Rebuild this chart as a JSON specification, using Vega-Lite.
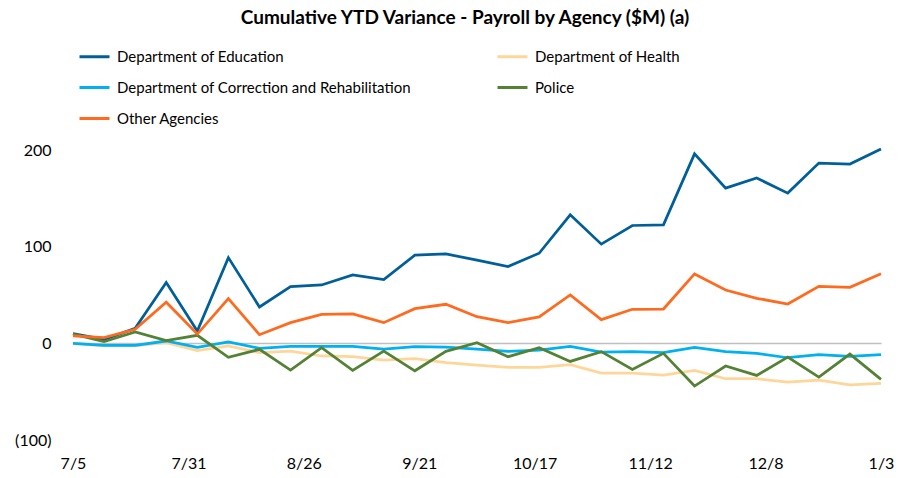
{
  "$schema": "https://vega.github.io/schema/vega-lite/v6.json",
  "autosize": {"type": "none"},
  "padding": {"left": 73, "top": 150, "right": 27, "bottom": 38},
  "width": 808,
  "height": 290,
  "background": "white",
  "config": {"view": {"stroke": null}, "font": "Lato"},
  "title": {
    "text": "Cumulative YTD Variance - Payroll by Agency ($M) (a)",
    "fontSize": 19,
    "fontWeight": "bold",
    "font": "Lato",
    "color": "#000000",
    "anchor": "middle",
    "dx": -12,
    "dy": 3,
    "offset": 15
  },
  "data": {
    "values": [
      {"date": "2024-07-05", "agency": "Department of Education", "value": 10},
      {"date": "2024-07-12", "agency": "Department of Education", "value": 4},
      {"date": "2024-07-19", "agency": "Department of Education", "value": 15.5},
      {"date": "2024-07-26", "agency": "Department of Education", "value": 63},
      {"date": "2024-08-02", "agency": "Department of Education", "value": 12.7},
      {"date": "2024-08-09", "agency": "Department of Education", "value": 88.7},
      {"date": "2024-08-16", "agency": "Department of Education", "value": 37.6},
      {"date": "2024-08-23", "agency": "Department of Education", "value": 58.7},
      {"date": "2024-08-30", "agency": "Department of Education", "value": 60.4},
      {"date": "2024-09-06", "agency": "Department of Education", "value": 70.8},
      {"date": "2024-09-13", "agency": "Department of Education", "value": 66},
      {"date": "2024-09-20", "agency": "Department of Education", "value": 91.2},
      {"date": "2024-09-27", "agency": "Department of Education", "value": 92.5},
      {"date": "2024-10-04", "agency": "Department of Education", "value": 86},
      {"date": "2024-10-11", "agency": "Department of Education", "value": 79.4},
      {"date": "2024-10-18", "agency": "Department of Education", "value": 93.2},
      {"date": "2024-10-25", "agency": "Department of Education", "value": 133},
      {"date": "2024-11-01", "agency": "Department of Education", "value": 102.6},
      {"date": "2024-11-08", "agency": "Department of Education", "value": 121.9},
      {"date": "2024-11-15", "agency": "Department of Education", "value": 122.6},
      {"date": "2024-11-22", "agency": "Department of Education", "value": 196},
      {"date": "2024-11-29", "agency": "Department of Education", "value": 160.6},
      {"date": "2024-12-06", "agency": "Department of Education", "value": 171},
      {"date": "2024-12-13", "agency": "Department of Education", "value": 155.4},
      {"date": "2024-12-20", "agency": "Department of Education", "value": 186.5},
      {"date": "2024-12-27", "agency": "Department of Education", "value": 185.5},
      {"date": "2025-01-03", "agency": "Department of Education", "value": 201},

      {"date": "2024-07-05", "agency": "Department of Health", "value": 0},
      {"date": "2024-07-12", "agency": "Department of Health", "value": -2.7},
      {"date": "2024-07-19", "agency": "Department of Health", "value": -2.7},
      {"date": "2024-07-26", "agency": "Department of Health", "value": 0.7},
      {"date": "2024-08-02", "agency": "Department of Health", "value": -7.6},
      {"date": "2024-08-09", "agency": "Department of Health", "value": -2.7},
      {"date": "2024-08-16", "agency": "Department of Health", "value": -9.7},
      {"date": "2024-08-23", "agency": "Department of Health", "value": -8},
      {"date": "2024-08-30", "agency": "Department of Health", "value": -13.1},
      {"date": "2024-09-06", "agency": "Department of Health", "value": -13.8},
      {"date": "2024-09-13", "agency": "Department of Health", "value": -17.3},
      {"date": "2024-09-20", "agency": "Department of Health", "value": -15.9},
      {"date": "2024-09-27", "agency": "Department of Health", "value": -20},
      {"date": "2024-10-04", "agency": "Department of Health", "value": -22.5},
      {"date": "2024-10-11", "agency": "Department of Health", "value": -24.9},
      {"date": "2024-10-18", "agency": "Department of Health", "value": -24.9},
      {"date": "2024-10-25", "agency": "Department of Health", "value": -22.1},
      {"date": "2024-11-01", "agency": "Department of Health", "value": -30.8},
      {"date": "2024-11-08", "agency": "Department of Health", "value": -30.8},
      {"date": "2024-11-15", "agency": "Department of Health", "value": -32.8},
      {"date": "2024-11-22", "agency": "Department of Health", "value": -28},
      {"date": "2024-11-29", "agency": "Department of Health", "value": -36.6},
      {"date": "2024-12-06", "agency": "Department of Health", "value": -36.6},
      {"date": "2024-12-13", "agency": "Department of Health", "value": -40.1},
      {"date": "2024-12-20", "agency": "Department of Health", "value": -38},
      {"date": "2024-12-27", "agency": "Department of Health", "value": -42.9},
      {"date": "2025-01-03", "agency": "Department of Health", "value": -41.5},

      {"date": "2024-07-05", "agency": "Department of Correction and Rehabilitation", "value": 0},
      {"date": "2024-07-12", "agency": "Department of Correction and Rehabilitation", "value": -2},
      {"date": "2024-07-19", "agency": "Department of Correction and Rehabilitation", "value": -2},
      {"date": "2024-07-26", "agency": "Department of Correction and Rehabilitation", "value": 2.4},
      {"date": "2024-08-02", "agency": "Department of Correction and Rehabilitation", "value": -4.2},
      {"date": "2024-08-09", "agency": "Department of Correction and Rehabilitation", "value": 1.4},
      {"date": "2024-08-16", "agency": "Department of Correction and Rehabilitation", "value": -5.2},
      {"date": "2024-08-23", "agency": "Department of Correction and Rehabilitation", "value": -3.1},
      {"date": "2024-08-30", "agency": "Department of Correction and Rehabilitation", "value": -3.1},
      {"date": "2024-09-06", "agency": "Department of Correction and Rehabilitation", "value": -3.1},
      {"date": "2024-09-13", "agency": "Department of Correction and Rehabilitation", "value": -5.9},
      {"date": "2024-09-20", "agency": "Department of Correction and Rehabilitation", "value": -3.5},
      {"date": "2024-09-27", "agency": "Department of Correction and Rehabilitation", "value": -3.8},
      {"date": "2024-10-04", "agency": "Department of Correction and Rehabilitation", "value": -5.9},
      {"date": "2024-10-11", "agency": "Department of Correction and Rehabilitation", "value": -8.3},
      {"date": "2024-10-18", "agency": "Department of Correction and Rehabilitation", "value": -7},
      {"date": "2024-10-25", "agency": "Department of Correction and Rehabilitation", "value": -3.1},
      {"date": "2024-11-01", "agency": "Department of Correction and Rehabilitation", "value": -9},
      {"date": "2024-11-08", "agency": "Department of Correction and Rehabilitation", "value": -8.6},
      {"date": "2024-11-15", "agency": "Department of Correction and Rehabilitation", "value": -9.7},
      {"date": "2024-11-22", "agency": "Department of Correction and Rehabilitation", "value": -4.2},
      {"date": "2024-11-29", "agency": "Department of Correction and Rehabilitation", "value": -8.6},
      {"date": "2024-12-06", "agency": "Department of Correction and Rehabilitation", "value": -10.4},
      {"date": "2024-12-13", "agency": "Department of Correction and Rehabilitation", "value": -14.9},
      {"date": "2024-12-20", "agency": "Department of Correction and Rehabilitation", "value": -11.8},
      {"date": "2024-12-27", "agency": "Department of Correction and Rehabilitation", "value": -13.5},
      {"date": "2025-01-03", "agency": "Department of Correction and Rehabilitation", "value": -11.8},

      {"date": "2024-07-05", "agency": "Police", "value": 9.6},
      {"date": "2024-07-12", "agency": "Police", "value": 1.7},
      {"date": "2024-07-19", "agency": "Police", "value": 11.7},
      {"date": "2024-07-26", "agency": "Police", "value": 2.8},
      {"date": "2024-08-02", "agency": "Police", "value": 8.3},
      {"date": "2024-08-09", "agency": "Police", "value": -14.5},
      {"date": "2024-08-16", "agency": "Police", "value": -6.2},
      {"date": "2024-08-23", "agency": "Police", "value": -27.7},
      {"date": "2024-08-30", "agency": "Police", "value": -4.5},
      {"date": "2024-09-06", "agency": "Police", "value": -28},
      {"date": "2024-09-13", "agency": "Police", "value": -8},
      {"date": "2024-09-20", "agency": "Police", "value": -28.4},
      {"date": "2024-09-27", "agency": "Police", "value": -8.3},
      {"date": "2024-10-04", "agency": "Police", "value": 0.7},
      {"date": "2024-10-11", "agency": "Police", "value": -13.8},
      {"date": "2024-10-18", "agency": "Police", "value": -4.5},
      {"date": "2024-10-25", "agency": "Police", "value": -18.7},
      {"date": "2024-11-01", "agency": "Police", "value": -8.6},
      {"date": "2024-11-08", "agency": "Police", "value": -27},
      {"date": "2024-11-15", "agency": "Police", "value": -10.4},
      {"date": "2024-11-22", "agency": "Police", "value": -44.2},
      {"date": "2024-11-29", "agency": "Police", "value": -23.5},
      {"date": "2024-12-06", "agency": "Police", "value": -33.2},
      {"date": "2024-12-13", "agency": "Police", "value": -14.2},
      {"date": "2024-12-20", "agency": "Police", "value": -34.9},
      {"date": "2024-12-27", "agency": "Police", "value": -11.1},
      {"date": "2025-01-03", "agency": "Police", "value": -37.3},

      {"date": "2024-07-05", "agency": "Other Agencies", "value": 7.6},
      {"date": "2024-07-12", "agency": "Other Agencies", "value": 6},
      {"date": "2024-07-19", "agency": "Other Agencies", "value": 14.5},
      {"date": "2024-07-26", "agency": "Other Agencies", "value": 42.5},
      {"date": "2024-08-02", "agency": "Other Agencies", "value": 9.6},
      {"date": "2024-08-09", "agency": "Other Agencies", "value": 46.2},
      {"date": "2024-08-16", "agency": "Other Agencies", "value": 8.9},
      {"date": "2024-08-23", "agency": "Other Agencies", "value": 21.4},
      {"date": "2024-08-30", "agency": "Other Agencies", "value": 30},
      {"date": "2024-09-06", "agency": "Other Agencies", "value": 30.4},
      {"date": "2024-09-13", "agency": "Other Agencies", "value": 21.4},
      {"date": "2024-09-20", "agency": "Other Agencies", "value": 35.9},
      {"date": "2024-09-27", "agency": "Other Agencies", "value": 40.4},
      {"date": "2024-10-04", "agency": "Other Agencies", "value": 27.6},
      {"date": "2024-10-11", "agency": "Other Agencies", "value": 21.4},
      {"date": "2024-10-18", "agency": "Other Agencies", "value": 27.3},
      {"date": "2024-10-25", "agency": "Other Agencies", "value": 50},
      {"date": "2024-11-01", "agency": "Other Agencies", "value": 24.5},
      {"date": "2024-11-08", "agency": "Other Agencies", "value": 35.2},
      {"date": "2024-11-15", "agency": "Other Agencies", "value": 35.5},
      {"date": "2024-11-22", "agency": "Other Agencies", "value": 71.8},
      {"date": "2024-11-29", "agency": "Other Agencies", "value": 55.2},
      {"date": "2024-12-06", "agency": "Other Agencies", "value": 46.6},
      {"date": "2024-12-13", "agency": "Other Agencies", "value": 40.7},
      {"date": "2024-12-20", "agency": "Other Agencies", "value": 59},
      {"date": "2024-12-27", "agency": "Other Agencies", "value": 58},
      {"date": "2025-01-03", "agency": "Other Agencies", "value": 72}
    ]
  },
  "mark": {"type": "line", "strokeWidth": 2.75, "clip": false},
  "encoding": {
    "x": {
      "field": "date",
      "type": "temporal",
      "scale": {
        "type": "utc",
        "domain": [
          {"year": 2024, "month": 7, "date": 5, "utc": true},
          {"year": 2025, "month": 1, "date": 3, "utc": true}
        ]
      },
      "axis": {
        "title": null,
        "domain": false,
        "ticks": false,
        "grid": false,
        "labelPadding": 15,
        "labelFontSize": 16,
        "labelColor": "#000000",
        "labelFont": "Lato",
        "labelFlush": false,
        "labelOverlap": false,
        "values": [
          {"year": 2024, "month": 7, "date": 5, "utc": true},
          {"year": 2024, "month": 7, "date": 31, "utc": true},
          {"year": 2024, "month": 8, "date": 26, "utc": true},
          {"year": 2024, "month": 9, "date": 21, "utc": true},
          {"year": 2024, "month": 10, "date": 17, "utc": true},
          {"year": 2024, "month": 11, "date": 12, "utc": true},
          {"year": 2024, "month": 12, "date": 8, "utc": true},
          {"year": 2025, "month": 1, "date": 3, "utc": true}
        ],
        "labelExpr": "utcFormat(datum.value, '%-m/%-d')"
      }
    },
    "y": {
      "field": "value",
      "type": "quantitative",
      "scale": {"domain": [-100, 200], "nice": false, "zero": false},
      "axis": {
        "title": null,
        "domain": false,
        "ticks": false,
        "values": [-100, 0, 100, 200],
        "labelPadding": 22,
        "labelFontSize": 16,
        "labelColor": "#000000",
        "labelFont": "Lato",
        "grid": true,
        "gridWidth": 1.5,
        "gridColor": {"condition": {"test": "datum.value === 0", "value": "#bfbfbf"}, "value": "transparent"},
        "labelExpr": "datum.value < 0 ? '(' + format(-datum.value, ',') + ')' : format(datum.value, ',')"
      }
    },
    "color": {
      "field": "agency",
      "type": "nominal",
      "scale": {
        "domain": ["Department of Education", "Department of Health", "Department of Correction and Rehabilitation", "Police", "Other Agencies"],
        "range": ["#005F99", "#FFD699", "#00B0F0", "#548235", "#FF6A1F"]
      },
      "legend": {
        "title": null,
        "orient": "none",
        "legendX": 5,
        "legendY": -110,
        "columns": 2,
        "direction": "horizontal",
        "symbolType": "stroke",
        "symbolSize": 900,
        "symbolStrokeWidth": 3,
        "labelFontSize": 15,
        "labelFont": "Lato",
        "labelColor": "#000000",
        "labelLimit": 500,
        "labelOffset": 6,
        "columnPadding": 80,
        "rowPadding": 6
      }
    }
  }
}
